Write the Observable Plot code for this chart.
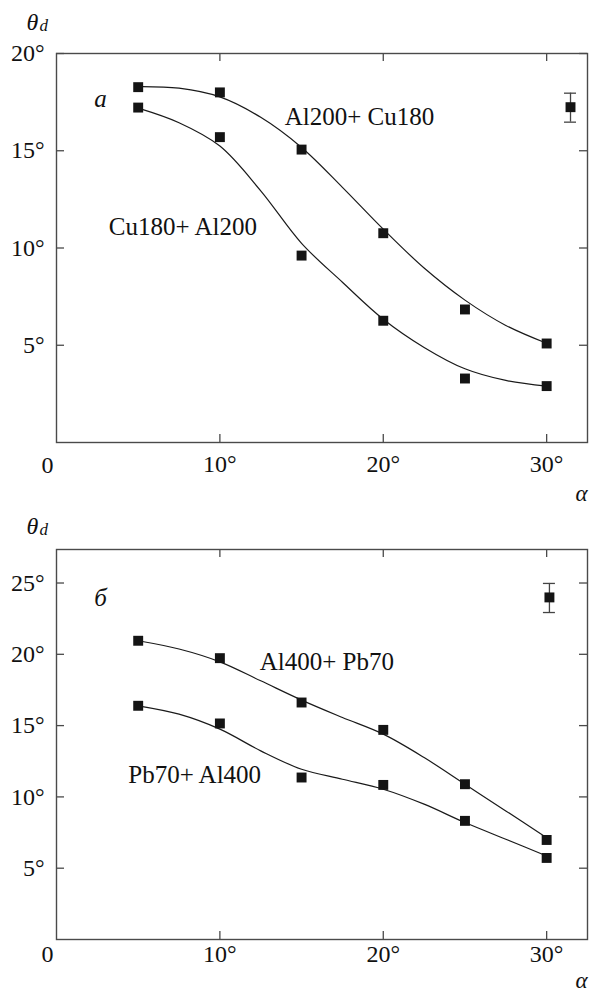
<!DOCTYPE html>
<html>
<head>
<meta charset="utf-8">
<script src="https://cdn.jsdelivr.net/npm/d3@7"></script>
<script src="https://cdn.jsdelivr.net/npm/@observablehq/plot@0.6"></script>
<style>
  html, body { margin: 0; padding: 0; background: #fff; }
  svg { display: block; }
</style>
</head>
<body>
<div id="chart"></div>
<script>
// ---------- shared ----------
const alpha = [5, 10, 15, 20, 25, 30];
const curveAlpha = [5, 7.5, 10, 12.5, 15, 17.5, 20, 22.5, 25, 27.5, 30];
const xTicks = [10, 20, 30];

// ---------- panel а ----------
const aUpperName = "Al200+ Cu180";
const aUpperTheta = [18.27, 18.0, 15.06, 10.76, 6.84, 5.09];
const aUpperCurve = [18.3, 18.22, 17.77, 16.72, 15.17, 13.12, 10.97, 8.97, 7.32, 6.02, 5.1];
const aLowerName = "Cu180+ Al200";
const aLowerTheta = [17.22, 15.7, 9.61, 6.26, 3.29, 2.9];
const aLowerCurve = [17.19, 16.44, 15.24, 12.94, 10.24, 8.24, 6.34, 4.89, 3.79, 3.19, 2.9];
const aYTicks = [5, 10, 15, 20];

// ---------- panel б ----------
const bUpperName = "Al400+ Pb70";
const bUpperTheta = [20.95, 19.73, 16.62, 14.7, 10.89, 6.98];
const bUpperCurve = [20.95, 20.37, 19.47, 18.14, 16.79, 15.57, 14.4, 12.76, 10.89, 9.02, 7.14];
const bLowerName = "Pb70+ Al400";
const bLowerTheta = [16.39, 15.15, 11.36, 10.84, 8.32, 5.72];
const bLowerCurve = [16.39, 15.8, 14.75, 13.23, 11.94, 11.24, 10.54, 9.49, 8.2, 7.03, 5.86];
const bYTicks = [5, 10, 15, 20, 25];

// ---------- error bars (panel а, panel б) ----------
const errAlpha = [31.46, 30.17];
const errTheta = [17.24, 23.99];
const errLow = [16.47, 22.93];
const errHigh = [17.96, 24.97];

const panelLetters = ["а", "б"];
const xLabel = "α";
const yLabel = "θ";
const ySub = "d";

const FONT = "Liberation Serif";
const W = 591, ML = 56, MR = 4;
const FW = W - ML - MR;
const frameColor = "#4a4a4a";
const ink = "#111";

function pts(xs, ys) { return xs.map((x, i) => ({x, y: ys[i]})); }

function panel(c) {
  const FH = c.height - c.marginTop - c.marginBottom;
  const upper = pts(alpha, c.upper);
  const lower = pts(alpha, c.lower);
  const upperC = pts(curveAlpha, c.upperCurve);
  const lowerC = pts(curveAlpha, c.lowerCurve);
  const e = [{x: errAlpha[c.k], y: errTheta[c.k], lo: errLow[c.k], hi: errHigh[c.k]}];
  const txt = {fontFamily: FONT, fill: ink};
  return Plot.plot({
    width: W,
    height: c.height,
    marginTop: c.marginTop,
    marginBottom: c.marginBottom,
    marginLeft: ML,
    marginRight: MR,
    style: {fontFamily: FONT, fontSize: "24px", color: ink, background: "#fff"},
    x: {domain: [0, 32.5], axis: null},
    y: {domain: c.yDomain, axis: null},
    marks: [
      // inward ticks on all four sides
      Plot.tickX(xTicks, {x: d => d, insetTop: FH - 8, stroke: frameColor, strokeWidth: 1.3}),
      Plot.tickX(xTicks, {x: d => d, insetBottom: FH - 8, stroke: frameColor, strokeWidth: 1.3}),
      Plot.tickY(c.yTicks, {y: d => d, insetRight: FW - 8, stroke: frameColor, strokeWidth: 1.3}),
      Plot.tickY(c.yTicks, {y: d => d, insetLeft: FW - 8, stroke: frameColor, strokeWidth: 1.3}),
      Plot.frame({stroke: frameColor, strokeWidth: 1.4}),
      Plot.axisX({ticks: xTicks, tickSize: 0, tickPadding: c.xPad, tickFormat: d => d + "°", fontSize: 24, label: null, ...txt}),
      Plot.axisY({ticks: c.yTicks, tickSize: 0, tickPadding: 12, tickFormat: d => d + "°", fontSize: 24, label: null, ...txt}),
      Plot.text(["0"], {frameAnchor: "bottom-left", lineAnchor: "middle", dx: -15, dy: c.zeroDy, text: d => d, fontSize: 24, ...txt}),
      // axis labels
      Plot.text([yLabel], {frameAnchor: "top-left", lineAnchor: "middle", dx: -30, dy: c.thetaDy, text: d => d, textAnchor: "start", fontStyle: "italic", fontSize: 24, ...txt}),
      Plot.text([ySub], {frameAnchor: "top-left", lineAnchor: "middle", dx: -17, dy: c.thetaDy + 2.3, text: d => d, textAnchor: "start", fontStyle: "italic", fontSize: 17, ...txt}),
      Plot.text([xLabel], {frameAnchor: "bottom-right", lineAnchor: "middle", dx: -12, dy: c.alphaDy, text: d => d, textAnchor: "start", fontStyle: "italic", fontSize: 23, ...txt}),
      // fitted curves
      Plot.line(upperC, {x: "x", y: "y", curve: "catmull-rom", stroke: "#1a1a1a", strokeWidth: 1.2}),
      Plot.line(lowerC, {x: "x", y: "y", curve: "catmull-rom", stroke: "#1a1a1a", strokeWidth: 1.2}),
      // error bar
      Plot.ruleX(e, {x: "x", y1: "lo", y2: "hi", stroke: "#444", strokeWidth: 1.3}),
      Plot.ruleY(e, {y: "lo", x1: "x", x2: "x", insetLeft: -6, insetRight: -6, stroke: "#444", strokeWidth: 1.3}),
      Plot.ruleY(e, {y: "hi", x1: "x", x2: "x", insetLeft: -6, insetRight: -6, stroke: "#444", strokeWidth: 1.3}),
      // data points
      Plot.dot(upper, {x: "x", y: "y", symbol: "square", r: 5.6, fill: "#141414"}),
      Plot.dot(lower, {x: "x", y: "y", symbol: "square", r: 5.6, fill: "#141414"}),
      Plot.dot(e, {x: "x", y: "y", symbol: "square", r: 5.6, fill: "#141414"}),
      // series labels
      Plot.text([c.upperName], {x: () => c.upperLabel[0], y: () => c.upperLabel[1], text: d => d, textAnchor: "start", fontSize: 25, ...txt}),
      Plot.text([c.lowerName], {x: () => c.lowerLabel[0], y: () => c.lowerLabel[1], text: d => d, textAnchor: "start", fontSize: 25, ...txt}),
      // panel letter
      Plot.text([panelLetters[c.k]], {x: () => c.letterPos[0], y: () => c.letterPos[1], text: d => d, fontStyle: "italic", fontSize: 25, ...txt})
    ]
  });
}

const chart = document.getElementById("chart");
chart.append(panel({
  k: 0, height: 508, marginTop: 53, marginBottom: 66,
  yDomain: [0, 20], yTicks: aYTicks,
  upper: aUpperTheta, lower: aLowerTheta, upperCurve: aUpperCurve, lowerCurve: aLowerCurve,
  upperName: aUpperName, lowerName: aLowerName,
  upperLabel: [13.97, 16.76], lowerLabel: [3.2, 11.1], letterPos: [2.69, 17.64],
  xPad: 12, zeroDy: 23, thetaDy: -30.7, alphaDy: 51
}));
chart.append(panel({
  k: 1, height: 486, marginTop: 41, marginBottom: 55,
  yDomain: [0, 27.35], yTicks: bYTicks,
  upper: bUpperTheta, lower: bLowerTheta, upperCurve: bUpperCurve, lowerCurve: bLowerCurve,
  upperName: bUpperName, lowerName: bLowerName,
  upperLabel: [12.44, 19.47], lowerLabel: [4.39, 11.56], letterPos: [2.69, 23.96],
  xPad: 5, zeroDy: 15, thetaDy: -22.7, alphaDy: 41
}));
</script>
</body>
</html>
